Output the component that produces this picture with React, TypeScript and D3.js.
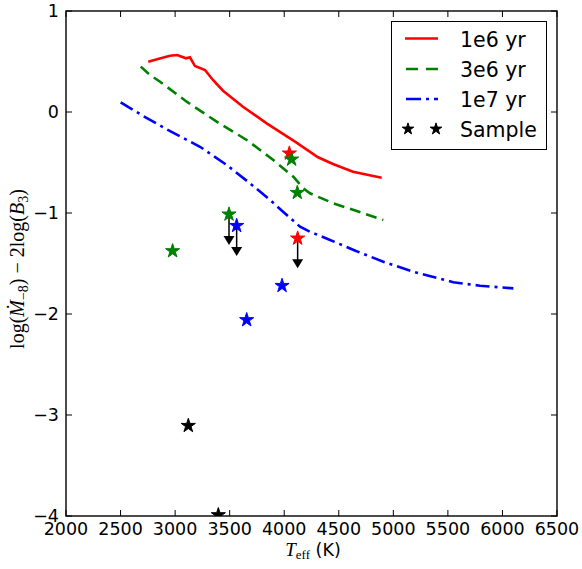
import React from 'react';
import * as d3 from 'd3';

// 1e6 yr track
const redT = [2754, 2843, 2953, 3020, 3100, 3136, 3182, 3274, 3347, 3439, 3622, 3839, 4099, 4310, 4447, 4630, 4893];
const redV = [0.498, 0.525, 0.557, 0.564, 0.532, 0.542, 0.455, 0.416, 0.317, 0.211, 0.052, -0.112, -0.294, -0.448, -0.515, -0.591, -0.65];
// 3e6 yr track
const greenT = [2685, 2770, 2862, 3106, 3381, 3656, 3900, 4083, 4175, 4236, 4450, 4908];
const greenV = [0.449, 0.366, 0.3, 0.102, -0.096, -0.277, -0.475, -0.641, -0.755, -0.805, -0.904, -1.069];
// 1e7 yr track
const blueT = [2501, 2708, 2923, 3228, 3473, 3686, 3870, 4023, 4145, 4236, 4420, 4658, 4908, 5183, 5550, 5794, 6100];
const blueV = [0.096, -0.04, -0.171, -0.344, -0.525, -0.706, -0.871, -1.02, -1.136, -1.185, -1.267, -1.376, -1.482, -1.581, -1.686, -1.72, -1.746];

// sample stars
const sRedT = [4047, 4123];
const sRedV = [-0.409, -1.251];
const sGreenT = [4068, 4120, 3494, 2977];
const sGreenV = [-0.469, -0.799, -1.013, -1.376];
const sBlueT = [3564, 3980, 3656];
const sBlueV = [-1.126, -1.72, -2.059];
const sBlackT = [3121, 3396];
const sBlackV = [-3.106, -3.99];

// upper limits (arrows)
const limT = [3494, 3564, 4123];
const limFrom = [-1.013, -1.126, -1.251];
const limTo = [-1.317, -1.426, -1.548];

const xTicks = [2000, 2500, 3000, 3500, 4000, 4500, 5000, 5500, 6000, 6500];
const yTicks = [-4, -3, -2, -1, 0, 1];
const legendLabels = ['1e6 yr', '3e6 yr', '1e7 yr', 'Sample'];

const W = 582, H = 569;
const L = 66, R = 557, T = 11, B = 516;

export default function App() {
  const x = d3.scaleLinear().domain([2000, 6500]).range([L, R]);
  const y = d3.scaleLinear().domain([-4, 1]).range([B, T]);
  const line = (ts: number[], vs: number[]) =>
    d3.line<number>().x((d) => x(ts[d])).y((d) => y(vs[d]))(ts.map((_, i) => i)) || '';
  const star = d3.symbol().type(d3.symbolStar).size(62)() || '';
  const starLeg = d3.symbol().type(d3.symbolStar).size(42)() || '';
  const tickFont = 'DejaVu Sans, sans-serif';
  const mathFont = 'Liberation Serif, DejaVu Serif, serif';

  const stars = (ts: number[], vs: number[], c: string) =>
    ts.map((t, i) => (
      <path key={c + i} d={star} transform={`translate(${x(t)},${y(vs[i])})`} fill={c} stroke={c} strokeWidth={1} />
    ));

  const legY = [38.5, 69, 99, 129];

  return (
    <svg width={W} height={H} style={{ position: 'absolute', left: 0, top: 0, background: '#fff' }}>
      <defs>
        <clipPath id="plot">
          <rect x={L} y={T} width={R - L} height={B - T} />
        </clipPath>
      </defs>
      <rect x={0} y={0} width={W} height={H} fill="#fff" />
      <g clipPath="url(#plot)">
        <path d={line(redT, redV)} fill="none" stroke="#ff0000" strokeWidth={2.6} />
        <path d={line(greenT, greenV)} fill="none" stroke="#008000" strokeWidth={2.6} strokeDasharray="11,6" />
        <path d={line(blueT, blueV)} fill="none" stroke="#0000ff" strokeWidth={2.6} strokeDasharray="14,5,3,5" />
        {limT.map((t, i) => {
          const tipY = y(limTo[i]);
          return (
            <g key={'a' + i}>
              <line x1={x(t)} x2={x(t)} y1={y(limFrom[i])} y2={tipY - 8} stroke="#000" strokeWidth={1.5} />
              <path d={`M${x(t) - 5.5},${tipY - 9}L${x(t) + 5.5},${tipY - 9}L${x(t)},${tipY}Z`} fill="#000" />
            </g>
          );
        })}
        {stars(sRedT, sRedV, '#ff0000')}
        {stars(sGreenT, sGreenV, '#008000')}
        {stars(sBlueT, sBlueV, '#0000ff')}
        {stars(sBlackT, sBlackV, '#000000')}
      </g>
      {/* ticks */}
      {xTicks.map((t) => (
        <g key={'xt' + t}>
          <line x1={x(t)} x2={x(t)} y1={B} y2={B - 6} stroke="#000" strokeWidth={1} />
          <line x1={x(t)} x2={x(t)} y1={T} y2={T + 6} stroke="#000" strokeWidth={1} />
          <text x={x(t)} y={535} textAnchor="middle" fontFamily={tickFont} fontSize={17.5} fill="#000">
            {t}
          </text>
        </g>
      ))}
      {yTicks.map((t) => (
        <g key={'yt' + t}>
          <line x1={L} x2={L + 6} y1={y(t)} y2={y(t)} stroke="#000" strokeWidth={1} />
          <line x1={R} x2={R - 6} y1={y(t)} y2={y(t)} stroke="#000" strokeWidth={1} />
          <text x={59} y={y(t) + 6} textAnchor="end" fontFamily={tickFont} fontSize={17.5} fill="#000">
            {t < 0 ? '\u2212' + Math.abs(t) : String(t)}
          </text>
        </g>
      ))}
      <rect x={L} y={T} width={R - L} height={B - T} fill="none" stroke="#000" strokeWidth={1.4} />
      {/* x label */}
      <text x={313} y={556} textAnchor="middle" fontSize={17.5} fill="#000">
        <tspan fontFamily={mathFont} fontStyle="italic" fontSize={19}>T</tspan>
        <tspan fontFamily={mathFont} fontSize={13} dy={3}>eff</tspan>
        <tspan fontFamily={tickFont} dy={-3}> (K)</tspan>
      </text>
      {/* y label */}
      <text
        transform="translate(24,269) rotate(-90)"
        textAnchor="middle"
        fontFamily={mathFont}
        fontSize={20}
        fill="#000"
      >
        <tspan>log(</tspan>
        <tspan fontStyle="italic">{'\u1E40'}</tspan>
        <tspan fontSize={14} dy={4}>{'\u22128'}</tspan>
        <tspan dy={-4}>{') \u2212 2log('}</tspan>
        <tspan fontStyle="italic">B</tspan>
        <tspan fontSize={14} dy={4}>3</tspan>
        <tspan dy={-4}>)</tspan>
      </text>
      {/* legend */}
      <rect x={391.5} y={21.5} width={155} height={128} fill="#fff" stroke="#000" strokeWidth={1} />
      <line x1={405} x2={438} y1={legY[0]} y2={legY[0]} stroke="#ff0000" strokeWidth={2.6} />
      <line x1={406} x2={438} y1={legY[1]} y2={legY[1]} stroke="#008000" strokeWidth={2.6} strokeDasharray="12,8" />
      <line x1={406} x2={438} y1={legY[2]} y2={legY[2]} stroke="#0000ff" strokeWidth={2.6} strokeDasharray="15,5,3,5" />
      <path d={starLeg} transform={`translate(408,${legY[3]})`} fill="#000" stroke="#000" strokeWidth={1} />
      <path d={starLeg} transform={`translate(436,${legY[3]})`} fill="#000" stroke="#000" strokeWidth={1} />
      {legendLabels.map((l, i) => (
        <text key={l} x={460} y={legY[i] + 8} fontFamily={tickFont} fontSize={20.5} fill="#000">
          {l}
        </text>
      ))}
    </svg>
  );
}
